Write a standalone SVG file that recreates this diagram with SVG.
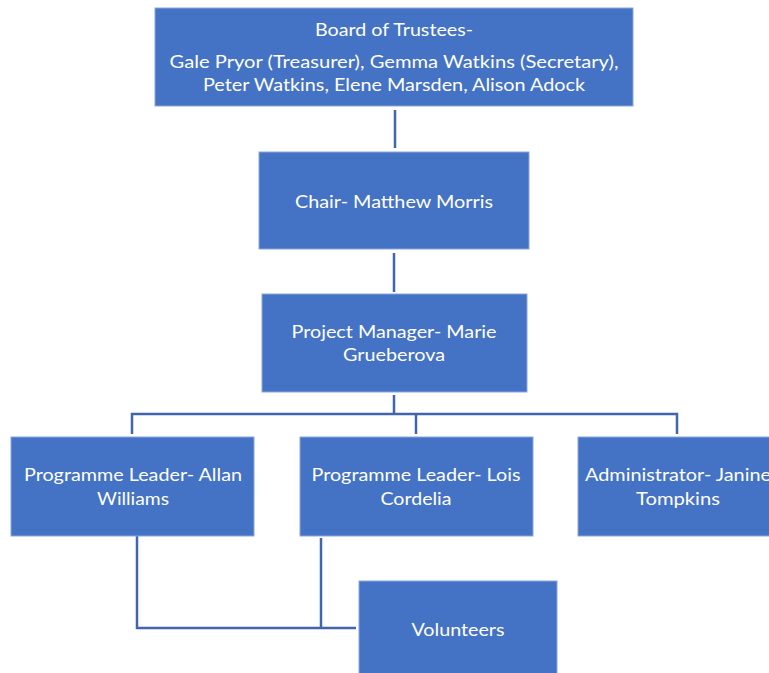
<svg xmlns="http://www.w3.org/2000/svg" width="769" height="673" viewBox="0 0 769 673">
<style>
.box{fill:#4472C4;stroke:#8aa8dc;stroke-width:1}
.t{font-family:Lato,"Noto Sans","Liberation Sans",sans-serif;font-size:17.5px;fill:#ffffff;text-anchor:middle}
.c{fill:none;stroke:#4166b0;stroke-width:2.5}
</style>
<rect width="769" height="673" fill="#ffffff"/>
<g id="connectors">
<line class="c" x1="395" y1="110" x2="395" y2="148"/>
<line class="c" x1="394" y1="253" x2="394" y2="292"/>
<line class="c" x1="394" y1="395" x2="394" y2="414"/>
<polyline class="c" points="132,434 132,414 677,414 677,434"/>
<line class="c" x1="416" y1="414" x2="416" y2="434"/>
<polyline class="c" points="137,536 137,628 356,628"/>
<line class="c" x1="321" y1="538" x2="321" y2="628"/>
</g>
<g id="board">
<rect class="box" x="155" y="8" width="478" height="98"/>
<text class="t" x="394" y="36" textLength="158" lengthAdjust="spacingAndGlyphs">Board of Trustees-</text>
<text class="t" x="394" y="68" textLength="449" lengthAdjust="spacingAndGlyphs">Gale Pryor (Treasurer), Gemma Watkins (Secretary),</text>
<text class="t" x="394" y="91" textLength="382" lengthAdjust="spacingAndGlyphs">Peter Watkins, Elene Marsden, Alison Adock</text>
</g>
<g id="chair">
<rect class="box" x="259" y="152" width="270" height="97"/>
<text class="t" x="394" y="208" textLength="198" lengthAdjust="spacingAndGlyphs">Chair- Matthew Morris</text>
</g>
<g id="pm">
<rect class="box" x="262" y="294" width="265" height="98"/>
<text class="t" x="394" y="338" textLength="205" lengthAdjust="spacingAndGlyphs">Project Manager- Marie</text>
<text class="t" x="394" y="361" textLength="102" lengthAdjust="spacingAndGlyphs">Grueberova</text>
</g>
<g id="pl1">
<rect class="box" x="11" y="437" width="243" height="99"/>
<text class="t" x="133" y="481" textLength="218" lengthAdjust="spacingAndGlyphs">Programme Leader- Allan</text>
<text class="t" x="133" y="505" textLength="72" lengthAdjust="spacingAndGlyphs">Williams</text>
</g>
<g id="pl2">
<rect class="box" x="300" y="437" width="233" height="99"/>
<text class="t" x="416" y="481" textLength="209" lengthAdjust="spacingAndGlyphs">Programme Leader- Lois</text>
<text class="t" x="416" y="505" textLength="71" lengthAdjust="spacingAndGlyphs">Cordelia</text>
</g>
<g id="admin">
<rect class="box" x="578" y="437" width="200" height="99"/>
<text class="t" x="678" y="481" textLength="186" lengthAdjust="spacingAndGlyphs">Administrator- Janine</text>
<text class="t" x="678" y="505" textLength="84" lengthAdjust="spacingAndGlyphs">Tompkins</text>
</g>
<g id="volunteers">
<rect class="box" x="359" y="581" width="198" height="100"/>
<text class="t" x="458" y="636" textLength="93" lengthAdjust="spacingAndGlyphs">Volunteers</text>
</g>
</svg>
